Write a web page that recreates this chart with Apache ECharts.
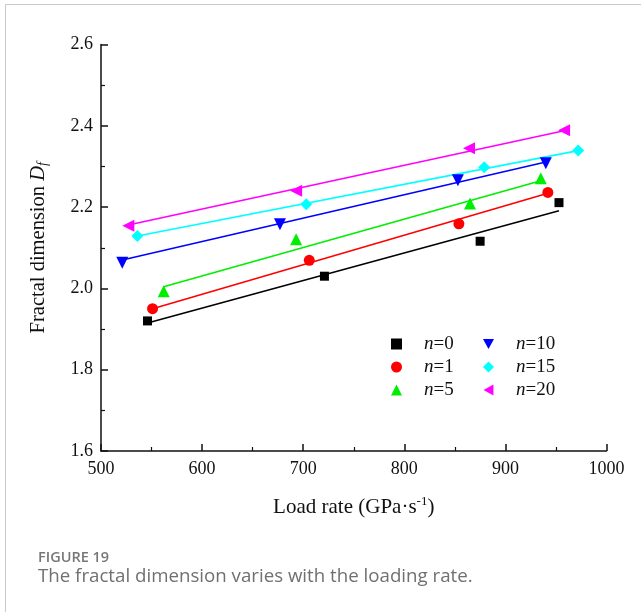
<!DOCTYPE html>
<html>
<head>
    <meta charset="utf-8">
    <title>Fractal dimension</title>
    <script src="https://cdn.jsdelivr.net/npm/echarts@6/dist/echarts.min.js"></script>
    <style>
        html, body { margin: 0; padding: 0; background: #fff; }
    </style>
</head>
<body>
    <div id="main" style="width: 641px;height:612px;"></div>

    <script type="text/javascript">

        // measured points (load rate, fractal dimension)
        var rateN0 = [546, 721, 875, 953];
        var dimN0 = [1.920, 2.030, 2.116, 2.211];
        var rateN1 = [551, 706, 854, 942];
        var dimN1 = [1.950, 2.069, 2.159, 2.236];
        var rateN5 = [562, 693, 865, 935];
        var dimN5 = [1.993, 2.121, 2.209, 2.271];
        var rateN10 = [521, 677, 853, 940];
        var dimN10 = [2.063, 2.158, 2.266, 2.308];
        var rateN15 = [536, 703, 879, 972];
        var dimN15 = [2.129, 2.207, 2.298, 2.339];
        var rateN20 = [527, 693, 864, 958];
        var dimN20 = [2.154, 2.240, 2.345, 2.389];

        // fitted line end points
        var fitN0 = [[546, 1.915], [953, 2.191]];
        var fitN1 = [[551, 1.950], [942, 2.234]];
        var fitN5 = [[562, 2.004], [935, 2.265]];
        var fitN10 = [[521, 2.070], [940, 2.311]];
        var fitN15 = [[536, 2.129], [972, 2.339]];
        var fitN20 = [[527, 2.156], [958, 2.388]];

        var names = ['n=0', 'n=1', 'n=5', 'n=10', 'n=15', 'n=20'];
        var colors = ['#000000', '#ff0000', '#00ee00', '#0000ff', '#00ffff', '#ff00ff'];
        var symbols = ['rect', 'circle', 'triangle', 'triangle', 'diamond', 'triangle'];
        var rotations = [0, 0, 0, 180, 0, 90];
        var sizes = [9, 11, 12, 12, 12, 12];
        var legendIcons = ['rect', 'circle', 'triangle',
            'path://M0,0L10,0L5,9Z', 'diamond', 'path://M0,5L9,0L9,10Z'];

        var rates = [rateN0, rateN1, rateN5, rateN10, rateN15, rateN20];
        var dims = [dimN0, dimN1, dimN5, dimN10, dimN15, dimN20];
        var fits = [fitN0, fitN1, fitN5, fitN10, fitN15, fitN20];

        var zip = function (xs, ys) {
            return xs.map(function (x, i) { return [x, ys[i]]; });
        };

        var series = [];
        for (var k = 0; k < names.length; k++) {
            series.push({
                name: names[k] + ' fit',
                type: 'line',
                data: fits[k],
                showSymbol: false,
                silent: true,
                z: 1,
                lineStyle: { color: colors[k], width: 1.6 }
            });
        }
        for (var k = 0; k < names.length; k++) {
            series.push({
                name: names[k],
                type: 'scatter',
                data: zip(rates[k], dims[k]),
                symbol: symbols[k],
                symbolRotate: rotations[k],
                symbolSize: sizes[k],
                z: 3,
                itemStyle: { color: colors[k], opacity: 1 }
            });
        }

        var serif = 'Liberation Serif';
        var legendText = {
            fontFamily: serif,
            fontSize: 19,
            color: '#111',
            lineHeight: 20,
            padding: [0, 0, 0, 17],
            rich: {
                i: { fontFamily: serif, fontSize: 19, fontStyle: 'italic', color: '#111', lineHeight: 20 },
                t: { fontFamily: serif, fontSize: 19, color: '#111', lineHeight: 20 }
            }
        };
        var legendFmt = function (name) {
            return '{i|n}{t|' + name.slice(1) + '}';
        };
        var legendItems = function (from, to) {
            var out = [];
            for (var k = from; k < to; k++) out.push({ name: names[k], icon: legendIcons[k] });
            return out;
        };

        var myChart = echarts.init(document.getElementById('main'));
        var option = {
            animation: false,
            backgroundColor: '#fff',
            grid: { left: 101, right: 34.5, top: 44.5, bottom: 161 },
            legend: [
                {
                    data: legendItems(0, 3),
                    orient: 'vertical',
                    left: 386, top: 329,
                    itemWidth: 11, itemHeight: 11, itemGap: 3,
                    formatter: legendFmt,
                    textStyle: legendText
                },
                {
                    data: legendItems(3, 6),
                    orient: 'vertical',
                    left: 478, top: 329,
                    itemWidth: 11, itemHeight: 11, itemGap: 3,
                    formatter: legendFmt,
                    textStyle: legendText
                }
            ],
            xAxis: {
                type: 'value',
                min: 500, max: 1000, interval: 100,
                name: 'Load rate (GPa·s{sup|-1})',
                nameLocation: 'middle',
                nameGap: 44,
                nameTextStyle: {
                    fontFamily: serif, fontSize: 21, color: '#111',
                    rich: { sup: { fontFamily: serif, fontSize: 13, color: '#111', padding: [0, 0, 11, 0] } }
                },
                axisLine: { lineStyle: { color: '#111', width: 1.5 } },
                axisTick: { inside: true, length: 7, lineStyle: { color: '#111', width: 1.5 } },
                minorTick: { show: true, splitNumber: 2, length: 4, lineStyle: { color: '#111', width: 1.2 } },
                splitLine: { show: false },
                axisLabel: {
                    fontFamily: serif, fontSize: 18, color: '#111', margin: 9,
                    formatter: function (v) { return String(v); }
                }
            },
            yAxis: {
                type: 'value',
                min: 1.6, max: 2.6, interval: 0.2,
                name: 'Fractal dimension {i|D}{s|f}',
                nameLocation: 'middle',
                nameGap: 51,
                nameTextStyle: {
                    fontFamily: serif, fontSize: 20.5, color: '#111',
                    rich: {
                        i: { fontFamily: serif, fontSize: 20.5, fontStyle: 'italic', color: '#111' },
                        s: { fontFamily: serif, fontSize: 14, fontStyle: 'italic', color: '#111', padding: [9, 0, 0, 0] }
                    }
                },
                axisLine: { show: true, lineStyle: { color: '#111', width: 1.5 } },
                axisTick: { show: true, inside: true, length: 7, lineStyle: { color: '#111', width: 1.5 } },
                minorTick: { show: true, splitNumber: 2, length: 4, lineStyle: { color: '#111', width: 1.2 } },
                splitLine: { show: false },
                axisLabel: {
                    fontFamily: serif, fontSize: 18, color: '#111', margin: 8,
                    formatter: function (v) { return v.toFixed(1); }
                }
            },
            graphic: [
                {
                    type: 'polyline',
                    shape: { points: [[5.5, 612], [5.5, 4.5], [641, 4.5]] },
                    style: { stroke: '#c8c8c8', lineWidth: 1, fill: null }
                },
                {
                    type: 'text', left: 38, top: 550,
                    style: { text: 'FIGURE 19', font: '600 14.5px "Open Sans"', fill: '#777' }
                },
                {
                    type: 'text', left: 38, top: 567,
                    style: { text: 'The fractal dimension varies with the loading rate.', font: '18.7px "Open Sans"', fill: '#707070' }
                }
            ],
            series: series
        };
        myChart.setOption(option);
    </script>
</body>
</html>
